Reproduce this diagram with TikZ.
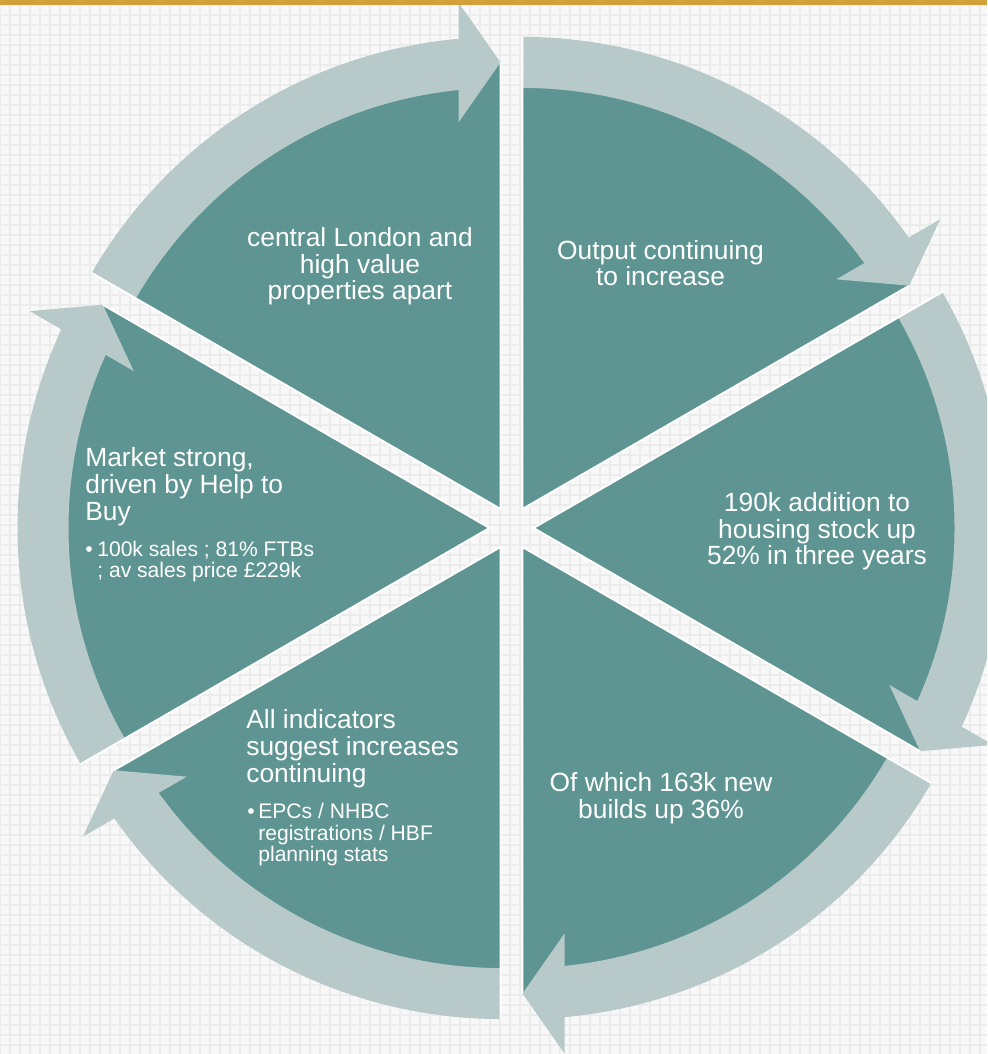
\documentclass[tikz,border=0pt]{standalone}
\usepackage{fontspec}
\setmainfont{Liberation Sans}
\usetikzlibrary{positioning}
\definecolor{segteal}{RGB}{94,149,146}
\definecolor{bandgrey}{RGB}{183,201,201}
\definecolor{bargold}{RGB}{212,160,58}
\definecolor{paper}{RGB}{248,248,248}
\definecolor{paperline}{RGB}{236,236,236}
\begin{document}
\begin{tikzpicture}[x=0.02cm,y=0.02cm,
    seg/.style={fill=segteal},
    band/.style={fill=bandgrey},
    edge/.style={draw=white,line width=1.1pt},
    head/.style={text=white,inner sep=0pt,font=\fontsize{15}{15.2}\selectfont},
    sub/.style={text=white,inner sep=0pt,align=left,font=\fontsize{12}{12.5}\selectfont}]
  \useasboundingbox (0,0) rectangle (987,1054);
  \clip (0,0) rectangle (987,1054);
  \fill[paper] (0,0) rectangle (987,1054);
  \draw[paperline,line width=1.1pt,shift={(0,9)}] (0,-9) grid[step=10] (987,1045);
  % top left
  \begin{scope}[shift={(500.5,545.05)},rotate=90]
    \fill[seg] (0,0) -- (0:446.5) arc[start angle=0,end angle=60,radius=446.5] -- cycle;
    \fill[band] (60:472) arc[start angle=60,end angle=5.105,radius=472] -- (506.5,42) -- (446.5,0)
      -- (386.5,42) -- (418.9,42) arc[start angle=5.727,end angle=60,radius=421] -- cycle;
    \draw[edge] (0:446.5) -- (0,0) -- (60:472);
  \end{scope}
  % top right
  \begin{scope}[shift={(522.5,545.05)},rotate=30]
    \fill[seg] (0,0) -- (0:446.5) arc[start angle=0,end angle=60,radius=446.5] -- cycle;
    \fill[band] (60:472) arc[start angle=60,end angle=5.105,radius=472] -- (506.5,42) -- (446.5,0)
      -- (386.5,42) -- (418.9,42) arc[start angle=5.727,end angle=60,radius=421] -- cycle;
    \draw[edge] (0:446.5) -- (0,0) -- (60:472);
  \end{scope}
  % right
  \begin{scope}[shift={(533.5,526)},rotate=-30]
    \fill[seg] (0,0) -- (0:446.5) arc[start angle=0,end angle=60,radius=446.5] -- cycle;
    \fill[band] (60:472) arc[start angle=60,end angle=5.105,radius=472] -- (506.5,42) -- (446.5,0)
      -- (386.5,42) -- (418.9,42) arc[start angle=5.727,end angle=60,radius=421] -- cycle;
    \draw[edge] (0:446.5) -- (0,0) -- (60:472);
  \end{scope}
  % bottom right
  \begin{scope}[shift={(522.5,506.95)},rotate=-90]
    \fill[seg] (0,0) -- (0:446.5) arc[start angle=0,end angle=60,radius=446.5] -- cycle;
    \fill[band] (60:472) arc[start angle=60,end angle=5.105,radius=472] -- (506.5,42) -- (446.5,0)
      -- (386.5,42) -- (418.9,42) arc[start angle=5.727,end angle=60,radius=421] -- cycle;
    \draw[edge] (0:446.5) -- (0,0) -- (60:472);
  \end{scope}
  % bottom left
  \begin{scope}[shift={(500.5,506.95)},rotate=-150]
    \fill[seg] (0,0) -- (0:446.5) arc[start angle=0,end angle=60,radius=446.5] -- cycle;
    \fill[band] (60:472) arc[start angle=60,end angle=5.105,radius=472] -- (506.5,42) -- (446.5,0)
      -- (386.5,42) -- (418.9,42) arc[start angle=5.727,end angle=60,radius=421] -- cycle;
    \draw[edge] (0:446.5) -- (0,0) -- (60:472);
  \end{scope}
  % left
  \begin{scope}[shift={(489.5,526)},rotate=150]
    \fill[seg] (0,0) -- (0:446.5) arc[start angle=0,end angle=60,radius=446.5] -- cycle;
    \fill[band] (60:472) arc[start angle=60,end angle=5.105,radius=472] -- (506.5,42) -- (446.5,0)
      -- (386.5,42) -- (418.9,42) arc[start angle=5.727,end angle=60,radius=421] -- cycle;
    \draw[edge] (0:446.5) -- (0,0) -- (60:472);
  \end{scope}
  \fill[bargold] (0,1049) rectangle (987,1054);
  % texts (base = last line)
  \node[head,align=center,anchor=base] (london) at (360,754) {central London and\\high value\\properties apart};
  \node[head,align=center,anchor=base] (output) at (660.5,768) {Output continuing\\to increase};
  \node[head,align=center,anchor=base] (stock) at (817,489) {190k addition to\\housing stock up\\52\% in three years};
  \node[head,align=center,anchor=base] (newbuild) at (661,235.6) {Of which 163k new\\builds up 36\%};
  \node[head,align=left,anchor=base west] (indic) at (246,271.6) {All indicators\\suggest increases\\continuing};
  \node[sub,anchor=base west] (indicsub) at (247,192) {\makebox[0.22cm][l]{\textbullet}EPCs / NHBC\\\hspace*{0.22cm}registrations / HBF\\\hspace*{0.22cm}planning stats};
  \node[head,align=left,anchor=base west] (market) at (85,533.6) {Market strong,\\driven by Help to\\Buy};
  \node[sub,anchor=base west] (marketsub) at (85,476) {\makebox[0.24cm][l]{\textbullet}100k sales ; 81\% FTBs\\\hspace*{0.24cm}; av sales price £229k};
\end{tikzpicture}
\end{document}
